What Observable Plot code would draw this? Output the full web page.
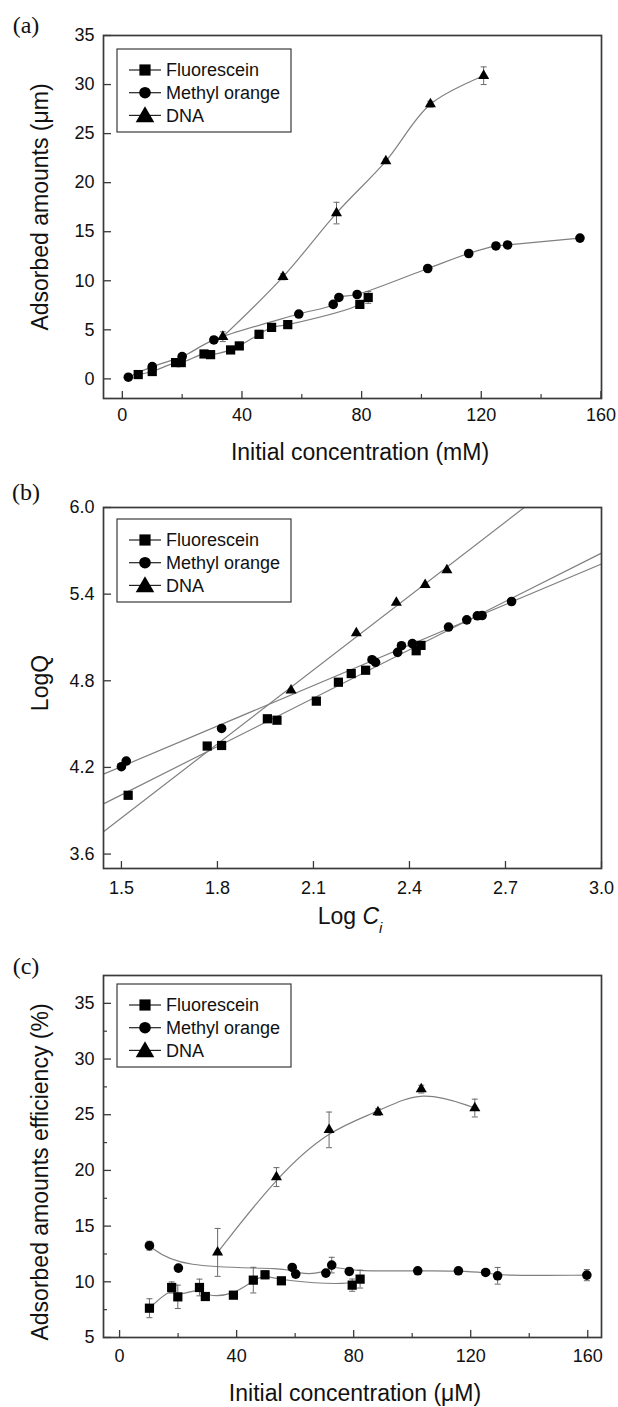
<!DOCTYPE html>
<html><head><meta charset="utf-8">
<script src="https://cdn.jsdelivr.net/npm/d3@7"></script>
<script src="https://cdn.jsdelivr.net/npm/@observablehq/plot@0.6"></script>
<style>
body{margin:0;background:#fff;}
#wrap{position:relative;width:618px;height:1407px;overflow:hidden;}
.panel{position:absolute;left:0;}
</style></head><body><div id="wrap"></div>
<script>
// ---------------- DATA ----------------
const seriesNames = ["Fluorescein", "Methyl orange", "DNA"];

// Panel (a): adsorbed amounts vs initial concentration (mM)
const aFluorX = [5.3, 10.0, 17.8, 19.7, 27.3, 29.5, 36.2, 39.1, 45.7, 49.9, 55.3, 79.4, 82.2];
const aFluorY = [0.44, 0.75, 1.66, 1.66, 2.54, 2.47, 2.95, 3.36, 4.54, 5.25, 5.53, 7.59, 8.30];
const aFluorErr = [0, 0, 0, 0, 0, 0, 0, 0, 0.4, 0, 0, 0.3, 0.6];
const aMOX = [2.0, 10.0, 20.0, 30.6, 59.0, 70.5, 72.4, 78.5, 102.1, 115.8, 124.9, 128.8, 153.0];
const aMOY = [0.17, 1.25, 2.27, 3.97, 6.61, 7.59, 8.30, 8.60, 11.25, 12.78, 13.55, 13.65, 14.35];
const aMOErr = [0, 0.3, 0, 0, 0, 0, 0, 0, 0, 0, 0, 0.3, 0];
const aDNAX = [33.6, 53.7, 71.6, 88.1, 103.0, 120.8];
const aDNAY = [4.30, 10.40, 16.90, 22.20, 28.00, 30.90];
const aDNAErr = [0.5, 0.3, 1.1, 0.2, 0.3, 0.9];
const aXTicks = [0, 40, 80, 120, 160];
const aXMinor = [20, 60, 100, 140];
const aYTicks = [0, 5, 10, 15, 20, 25, 30, 35];

// Panel (b): LogQ vs Log Ci
const bFluorX = [1.521, 1.768, 1.813, 1.956, 1.986, 2.109, 2.178, 2.218, 2.263, 2.421, 2.436];
const bFluorY = [4.007, 4.348, 4.352, 4.537, 4.527, 4.659, 4.790, 4.850, 4.873, 5.008, 5.045];
const bMOX = [1.500, 1.515, 1.813, 2.283, 2.294, 2.363, 2.375, 2.409, 2.522, 2.579, 2.612, 2.627, 2.719];
const bMOY = [4.205, 4.244, 4.470, 4.946, 4.928, 4.997, 5.043, 5.057, 5.172, 5.222, 5.250, 5.252, 5.349];
const bDNAX = [2.030, 2.234, 2.359, 2.449, 2.517];
const bDNAY = [4.734, 5.130, 5.342, 5.464, 5.567];
const bXTicks = [1.5, 1.8, 2.1, 2.4, 2.7, 3.0];
const bYTicks = [3.6, 4.2, 4.8, 5.4, 6.0];

// Panel (c): adsorbed amounts efficiency (%) vs initial concentration (uM)
const cFluorX = [10.2, 17.8, 19.9, 27.3, 29.3, 38.9, 45.7, 49.7, 55.3, 79.5, 82.2];
const cFluorY = [7.63, 9.49, 8.65, 9.49, 8.68, 8.80, 10.15, 10.63, 10.09, 9.70, 10.24];
const cFluorErr = [0.85, 0.5, 1.05, 0.75, 0.3, 0.25, 1.15, 0.35, 0, 0.55, 0.8];
const cMOX = [10.2, 20.1, 59.0, 60.2, 70.5, 72.5, 78.5, 101.9, 115.8, 125.1, 129.2, 159.7];
const cMOY = [13.24, 11.23, 11.29, 10.69, 10.78, 11.50, 10.93, 10.99, 10.99, 10.84, 10.54, 10.60];
const cMOErr = [0.4, 0, 0.2, 0.3, 0, 0.7, 0.3, 0, 0.25, 0, 0.75, 0.5];
const cDNAX = [33.5, 53.6, 71.6, 88.3, 103.1, 121.4];
const cDNAY = [12.64, 19.40, 23.64, 25.23, 27.30, 25.60];
const cDNAErr = [2.15, 0.85, 1.6, 0.3, 0.35, 0.8];
const cXTicks = [0, 40, 80, 120, 160];
const cXMinor = [20, 60, 100, 140];
const cYTicks = [5, 10, 15, 20, 25, 30, 35];
const cYMinor = [7.5, 12.5, 17.5, 22.5, 27.5, 32.5];

// ---------------- RENDER ----------------
const W = 618;
const FONT = "'Liberation Sans', Arial, Helvetica, sans-serif";
const AX = "#3a3a3a";
const CURVE = "#808080";
const ERR = "#6a6a6a";
const MARK = "#000";
const symbolOf = {"Fluorescein": "square", "Methyl orange": "circle", "DNA": "triangle"};
const rOf = {"Fluorescein": 5.2, "Methyl orange": 4.8, "DNA": 4.1};
const capSym = {draw(ctx) { ctx.moveTo(-3, 0); ctx.lineTo(3, 0); }};

function toRows(name, xs, ys, es) {
  return xs.map((x, i) => ({name, x, y: ys[i], e: es ? es[i] : 0}));
}

function fitLine(xs, ys) {
  const mx = d3.mean(xs), my = d3.mean(ys);
  let num = 0, den = 0;
  xs.forEach((x, i) => { num += (x - mx) * (ys[i] - my); den += (x - mx) ** 2; });
  const m = num / den;
  return {m, b: my - m * mx};
}

function panel(cfg) {
  const {top, height, mt, mb, ml = 103, mr = 17, xDomain, yDomain, xTicks, xMinor = [], yTicks, yMinor = [],
    fmtX, fmtY, series, curve, fits, letter, xTitle, yTitle, legend, padX} = cfg;
  const fw = W - ml - mr, fh = height - mt - mb;
  const marks = [];
  const allRows = series.flatMap(s => toRows(s.name, s.x, s.y, s.e));
  if (fits) {
    for (const s of series) {
      const {m, b} = fitLine(s.x, s.y);
      let x0 = xDomain[0], x1 = xDomain[1];
      x0 = Math.max(x0, (yDomain[0] - b) / m);
      x1 = Math.min(x1, (yDomain[1] - b) / m);
      marks.push(Plot.line([x0, x1], {x: d => d, y: d => m * d + b, stroke: CURVE, strokeWidth: 1.2}));
    }
  } else {
    marks.push(Plot.line(allRows, {x: "x", y: "y", z: "name", curve, stroke: CURVE, strokeWidth: 1.2}));
  }
  const errRows = allRows.filter(d => d.e > 0);
  marks.push(Plot.ruleX(errRows, {x: "x", y1: d => d.y - d.e, y2: d => d.y + d.e, stroke: ERR, strokeWidth: 1}));
  marks.push(Plot.dot(errRows, {x: "x", y: d => d.y + d.e, symbol: capSym, fill: "none", stroke: ERR, strokeWidth: 1}));
  marks.push(Plot.dot(errRows, {x: "x", y: d => d.y - d.e, symbol: capSym, fill: "none", stroke: ERR, strokeWidth: 1}));
  for (const s of series) {
    marks.push(Plot.dot(toRows(s.name, s.x, s.y), {x: "x", y: "y", symbol: symbolOf[s.name], r: rOf[s.name], fill: MARK, stroke: "none"}));
  }
  marks.push(Plot.tickX(xTicks, {x: d => d, insetTop: fh - 7, stroke: AX, strokeWidth: 1.3}));
  if (xMinor.length) marks.push(Plot.tickX(xMinor, {x: d => d, insetTop: fh - 4, stroke: AX, strokeWidth: 1.2}));
  marks.push(Plot.tickY(yTicks, {y: d => d, insetRight: fw - 8, stroke: AX, strokeWidth: 1.3}));
  if (yMinor.length) marks.push(Plot.tickY(yMinor, {y: d => d, insetRight: fw - 4, stroke: AX, strokeWidth: 1.2}));
  marks.push(Plot.axisX(xTicks, {tickSize: 0, tickPadding: padX, tickFormat: fmtX, fontSize: 18, label: null, fill: "#111"}));
  marks.push(Plot.axisY(yTicks, {tickSize: 0, tickPadding: 9, tickFormat: fmtY, fontSize: 18, label: null, fill: "#111"}));
  marks.push(Plot.frame({stroke: AX, strokeWidth: 1.7}));

  const svg = Plot.plot({
    width: W, height, marginTop: mt, marginBottom: mb, marginLeft: ml, marginRight: mr,
    x: {domain: xDomain}, y: {domain: yDomain},
    style: {fontFamily: FONT, fontSize: "18px", background: "white", color: "#111", overflow: "visible"},
    marks
  });
  const sel = d3.select(svg);
  // panel letter
  sel.append("text").attr("x", 26).attr("y", letter.y).attr("dy", "0.35em").attr("text-anchor", "middle")
    .style("font-family", "'Liberation Serif', 'Times New Roman', serif").style("font-size", "24px").attr("fill", "#111").text(letter.t);
  // x title
  const xt = sel.append("text").attr("x", xTitle.x).attr("y", xTitle.y).attr("dy", "0.35em").attr("text-anchor", "middle")
    .style("font-family", FONT).style("font-size", "23px").attr("fill", "#111");
  xTitle.parts.forEach(p => {
    const t = xt.append("tspan").text(p.t);
    if (p.italic) t.style("font-style", "italic");
    if (p.sub) t.attr("baseline-shift", "sub").style("font-size", "15px");
  });
  // y title
  sel.append("text").attr("transform", `translate(${yTitle.x},${yTitle.y}) rotate(-90)`).attr("dy", "0.35em")
    .attr("text-anchor", "middle").style("font-family", FONT).style("font-size", "23px").attr("fill", "#111").text(yTitle.t);
  // legend
  const g = sel.append("g").attr("text-anchor", "start");
  g.append("rect").attr("x", 117).attr("y", legend.top).attr("width", 174).attr("height", 83)
    .attr("fill", "white").attr("stroke", AX).attr("stroke-width", 1.2);
  const legSize = {"Fluorescein": 125, "Methyl orange": 105, "DNA": 150};
  const legSym = {"Fluorescein": d3.symbolSquare, "Methyl orange": d3.symbolCircle, "DNA": d3.symbolTriangle};
  seriesNames.forEach((n, i) => {
    const y = legend.top + 21 + i * 22.7;
    g.append("line").attr("x1", 129).attr("x2", 161).attr("y1", y).attr("y2", y).attr("stroke", "#222").attr("stroke-width", 1.2);
    g.append("path").attr("transform", `translate(145,${y + (n === "DNA" ? 1.5 : 0)})`).attr("d", d3.symbol(legSym[n], legSize[n])()).attr("fill", "#000");
    g.append("text").attr("x", 166).attr("y", y).attr("dy", "0.35em").attr("text-anchor", "start")
      .style("font-family", FONT).style("font-size", "18px").attr("fill", "#111").text(n);
  });
  const div = document.createElement("div");
  div.className = "panel";
  div.style.top = top + "px";
  div.appendChild(svg);
  document.getElementById("wrap").appendChild(div);
}

panel({
  top: 0, height: 469, mt: 35, mb: 71,
  xDomain: [-6.3, 160.2], yDomain: [-2, 35],
  xTicks: aXTicks, xMinor: aXMinor, yTicks: aYTicks, fmtX: d3.format("d"), fmtY: d3.format("d"), padX: 10,
  series: [
    {name: "Fluorescein", x: aFluorX, y: aFluorY, e: aFluorErr},
    {name: "Methyl orange", x: aMOX, y: aMOY, e: aMOErr},
    {name: "DNA", x: aDNAX, y: aDNAY, e: aDNAErr}
  ],
  curve: "catmull-rom",
  letter: {t: "(a)", y: 25},
  xTitle: {x: 360, y: 452, parts: [{t: "Initial concentration (mM)"}]},
  yTitle: {x: 40, y: 207, t: "Adsorbed amounts (μm)"},
  legend: {top: 49}
});

panel({
  top: 469, height: 469, mt: 38, mb: 70,
  xDomain: [1.444, 3.0], yDomain: [3.5, 6.0],
  xTicks: bXTicks, yTicks: bYTicks, fmtX: d3.format(".1f"), fmtY: d3.format(".1f"), padX: 13,
  series: [
    {name: "Fluorescein", x: bFluorX, y: bFluorY},
    {name: "Methyl orange", x: bMOX, y: bMOY},
    {name: "DNA", x: bDNAX, y: bDNAY}
  ],
  fits: true,
  letter: {t: "(b)", y: 23},
  xTitle: {x: 350, y: 447, parts: [{t: "Log "}, {t: "C", italic: true}, {t: "i", italic: true, sub: true}]},
  yTitle: {x: 40, y: 214, t: "LogQ"},
  legend: {top: 50}
});

panel({
  top: 938, height: 469, mt: 37, mb: 70,
  xDomain: [-5.5, 164.7], yDomain: [5, 37.5],
  xTicks: cXTicks, xMinor: cXMinor, yTicks: cYTicks, yMinor: cYMinor, fmtX: d3.format("d"), fmtY: d3.format("d"), padX: 12,
  series: [
    {name: "Fluorescein", x: cFluorX, y: cFluorY, e: cFluorErr},
    {name: "Methyl orange", x: cMOX, y: cMOY, e: cMOErr},
    {name: "DNA", x: cDNAX, y: cDNAY, e: cDNAErr}
  ],
  curve: "basis",
  letter: {t: "(c)", y: 28},
  xTitle: {x: 355, y: 455, parts: [{t: "Initial concentration (μM)"}]},
  yTitle: {x: 40, y: 234, t: "Adsorbed amounts efficiency (%)"},
  legend: {top: 46}
});
</script></body></html>
